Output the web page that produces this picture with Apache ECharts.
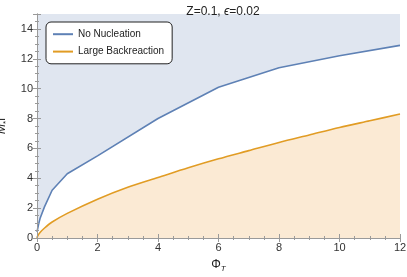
<!DOCTYPE html>
<html><head><meta charset="utf-8">
<script src="https://cdn.jsdelivr.net/npm/echarts@6/dist/echarts.min.js"></script>
<style>html,body{margin:0;padding:0;background:#fff}#c{width:407px;height:277px}</style>
</head><body><div id="c"></div>
<script>
const blueName = 'No Nucleation';
const orangeName = 'Large Backreaction';
const blueX = [0, 0.05, 0.1, 0.25, 0.5, 1, 2, 4, 6, 8, 10, 12];
const blueY = [0.4, 0.9, 1.3, 2.1, 3.2, 4.3, 5.5, 8.0, 10.1, 11.4, 12.2, 12.9];
const orangeX = [0, 0.02, 0.1, 0.25, 0.5, 1, 2, 3, 4, 5, 6, 7, 8, 9, 10, 11, 12];
const orangeY = [0, 0.13, 0.37, 0.67, 1.07, 1.65, 2.6, 3.4, 4.05, 4.7, 5.3, 5.85, 6.4, 6.9, 7.4, 7.85, 8.3];
const xTicks = [0, 2, 4, 6, 8, 10, 12];
const yTicks = [0, 2, 4, 6, 8, 10, 12, 14];

const font = 'Liberation Sans';
const frame = '#9a9a9a';
const chart = echarts.init(document.getElementById('c'));
const pairs = (xs, ys) => xs.map((x, i) => [x, ys[i]]);
function axisBase(extra) {
  return Object.assign({
    type: 'value', z: 5,
    axisLine: {show: true, lineStyle: {color: frame, width: 1}},
    axisTick: {show: true, inside: true, length: 4, lineStyle: {color: frame}},
    minorTick: {show: true, splitNumber: 4, length: 2, lineStyle: {color: frame}},
    splitLine: {show: false},
    axisLabel: {color: '#333', fontFamily: font, fontSize: 11, margin: 4}
  }, extra);
}
const xr = {min: xTicks[0], max: xTicks[xTicks.length-1], interval: 2};
const yr = {min: yTicks[0], max: 15, interval: 2};
chart.setOption({
  animation: false,
  title: {
    text: 'Z=0.1, {i|ϵ}=0.02', left: 218, top: 1, textAlign: 'center',
    textStyle: {fontFamily: font, fontSize: 12, fontWeight: 'normal', color: '#222',
      rich: {i: {fontFamily: font, fontSize: 12, fontStyle: 'italic', color: '#222'}}}
  },
  grid: {left: 37, right: 7, top: 14, bottom: 39, show: true, backgroundColor: '#e0e6f0', borderWidth: 0,
    containLabel: false, outerBoundsMode: 'none'},
  legend: {
    left: 46, top: 22, orient: 'vertical',
    backgroundColor: '#fff', borderColor: '#222', borderWidth: 1, borderRadius: 5,
    padding: [7, 8, 7, 6], itemGap: 7, itemWidth: 20, itemHeight: 13,
    itemStyle: {opacity: 0},
    textStyle: {fontFamily: font, fontSize: 10, color: '#222'},
    data: [blueName, orangeName]
  },
  xAxis: [
    axisBase(Object.assign({position: 'bottom',
      name: 'Φ{s|T}', nameLocation: 'middle', nameGap: 19,
      nameTextStyle: {fontFamily: font, fontSize: 12, color: '#222',
        rich: {s: {fontSize: 8, fontStyle: 'italic', fontFamily: font, color: '#222', padding: [8, 0, 0, 0]}}}
    }, xr)),
    axisBase(Object.assign({position: 'top', axisLabel: {show: false}}, xr))
  ],
  yAxis: [
    axisBase(Object.assign({position: 'left',
      axisLabel: {color: '#333', fontFamily: font, fontSize: 11, margin: 4, showMaxLabel: false},
      name: '{i|M}{s|*}l', nameLocation: 'middle', nameGap: 21, nameRotate: 90,
      nameTextStyle: {fontFamily: font, fontSize: 12, color: '#222',
        rich: {i: {fontSize: 12, fontStyle: 'italic', fontFamily: font, color: '#222'},
               s: {fontSize: 8, fontFamily: font, color: '#222', padding: [8, 0, 0, 0]}}}
    }, yr)),
    axisBase(Object.assign({position: 'right', axisLabel: {show: false}}, yr))
  ],
  series: [
    {name: blueName, type: 'line', data: pairs(blueX, blueY), symbol: 'none',
      lineStyle: {color: '#5e81b5', width: 1.6}, itemStyle: {color: '#5e81b5'},
      areaStyle: {color: '#ffffff', opacity: 1}, z: 2},
    {name: orangeName, type: 'line', data: pairs(orangeX, orangeY), symbol: 'none', smooth: 0.3,
      lineStyle: {color: '#e19c24', width: 1.6}, itemStyle: {color: '#e19c24'},
      areaStyle: {color: '#fbead4', opacity: 1}, z: 3}
  ]
});
</script></body></html>
